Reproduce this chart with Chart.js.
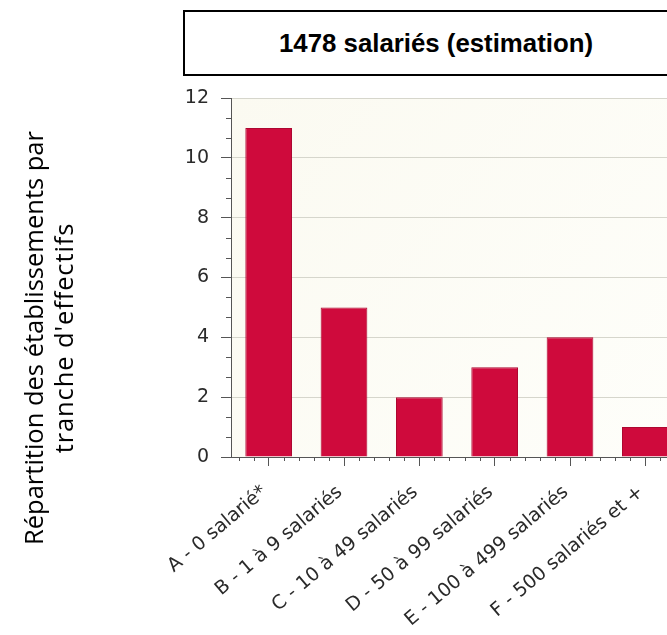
<!DOCTYPE html>
<html>
<head>
<meta charset="utf-8">
<script src="https://cdn.jsdelivr.net/npm/chart.js@4"></script>
<style>
  body { margin: 0; background: #fff; overflow: hidden; width: 667px; height: 635px; position: relative; }
  #wrap { position: absolute; left: 0; top: 0; width: 700px; height: 635px; }
  #titleBox {
    position: absolute; left: 183px; top: 10px; width: 506px; height: 66px;
    border: 2px solid #000; box-sizing: border-box; background: #fff;
    font: bold 25.8px "Liberation Sans", Arial, sans-serif; line-height: 62px; text-align: center; color: #000;
  }
  #yLabel {
    position: absolute; left: 48px; top: 338px; width: 460px;
    transform: translate(-50%, -50%) rotate(-90deg);
    font: 25.5px "Open Sans", sans-serif; line-height: 30px; text-align: center; color: #000;
  }
  #yLabel span { letter-spacing: 0.9px; }
</style>
</head>
<body>
<div id="wrap"><canvas id="chart" width="700" height="635"></canvas></div>
<div id="titleBox">1478 salariés (estimation)</div>
<div id="yLabel">Répartition des établissements par<br><span>tranche d'effectifs</span></div>
<script>
const categories = ['A - 0 salarié*', 'B - 1 à 9 salariés', 'C - 10 à 49 salariés', 'D - 50 à 99 salariés', 'E - 100 à 499 salariés', 'F - 500 salariés et +'];
const counts = [11, 5, 2, 3, 4, 1];
const yMin = 0, yMax = 12, yStep = 2;

// cream plot background + the small ticks between the labelled ones
const plotDecor = {
    id: 'plotDecor',
    beforeDraw(chart) {
        const { ctx, chartArea: a } = chart;
        const g = ctx.createLinearGradient(a.left, a.top, a.right, a.bottom);
        g.addColorStop(0, '#fbfaf1');
        g.addColorStop(1, '#fefefa');
        ctx.save();
        ctx.fillStyle = g;
        ctx.fillRect(a.left, a.top, a.right - a.left, a.bottom - a.top);
        ctx.restore();
    },
    afterDraw(chart) {
        const { ctx, chartArea: a, scales: { x, y } } = chart;
        ctx.save();
        ctx.strokeStyle = '#555';
        ctx.lineWidth = 1;
        ctx.beginPath();
        // y: 3 sub-divisions per step
        for (let i = 0; i <= (yMax - yMin) / yStep * 3; i++) {
            if (i % 3 === 0) continue;
            const py = Math.round(y.getPixelForValue(yMin + i * yStep / 3)) + 0.5;
            ctx.moveTo(a.left - 5, py);
            ctx.lineTo(a.left, py);
        }
        // x: 5 ticks per category
        const w = x.getPixelForValue(1) - x.getPixelForValue(0);
        categories.forEach((c, i) => {
            for (let k = -2; k <= 2; k++) {
                if (k === 0) continue;
                const px = Math.round(x.getPixelForValue(i) + k * w / 5) + 0.5;
                ctx.moveTo(px, a.bottom);
                ctx.lineTo(px, a.bottom + 4);
            }
        });
        ctx.stroke();
        ctx.restore();
    }
};

const tickFont = { family: 'DejaVu Sans', size: 19 };

new Chart(document.getElementById('chart').getContext('2d'), {
    type: 'bar',
    data: {
        labels: categories,
        datasets: [{
            data: counts,
            backgroundColor: '#cf0a3c',
            borderColor: '#ad0831',
            borderWidth: 1,
            barPercentage: 0.62,
            categoryPercentage: 1
        }]
    },
    options: {
        responsive: false,
        animation: false,
        layout: { padding: { left: 150, top: 98, right: 17, bottom: 0 } },
        plugins: {
            legend: { display: false },
            tooltip: { enabled: false }
        },
        scales: {
            x: {
                grid: { drawOnChartArea: false, offset: false, tickLength: 9, tickColor: '#555' },
                border: { color: '#555' },
                ticks: { autoSkip: false, minRotation: 40, maxRotation: 40, font: tickFont, color: '#2a2a2a', padding: 15, labelOffset: -4 },
                afterFit(s) { s.height = 178; }
            },
            y: {
                min: yMin,
                max: yMax,
                ticks: { stepSize: yStep, font: tickFont, color: '#2a2a2a', padding: 12 },
                grid: { color: '#d6d6cc', tickLength: 10, tickColor: '#555' },
                border: { color: '#555' },
                afterFit(s) { s.width = 81; }
            }
        }
    },
    plugins: [plotDecor]
});
</script>
</body>
</html>
